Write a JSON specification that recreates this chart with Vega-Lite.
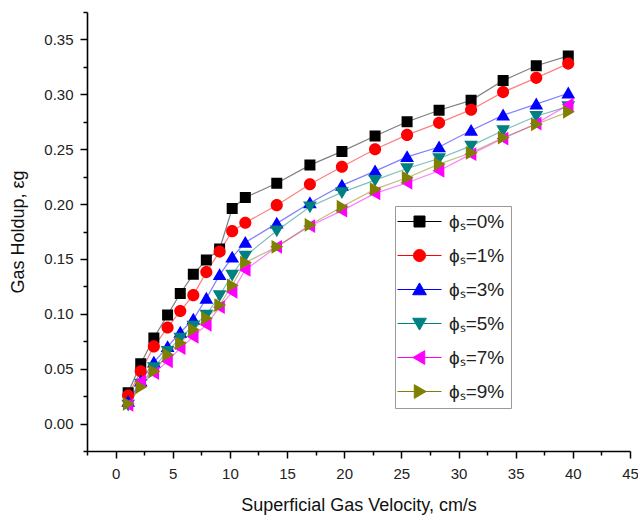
{
  "$schema": "https://vega.github.io/schema/vega-lite/v6.json",
  "width": 543,
  "height": 439,
  "autosize": {"type": "none"},
  "padding": {"left": 87, "top": 12, "right": 8, "bottom": 65},
  "background": "white",
  "config": {
    "view": {"stroke": null},
    "font": "Liberation Sans",
    "axis": {
      "domainColor": "#000", "domainWidth": 1.6,
      "tickColor": "#000", "tickWidth": 1.5,
      "labelFont": "Liberation Sans", "labelFontSize": 15, "labelColor": "#222",
      "titleFont": "Liberation Sans", "titleFontSize": 18, "titleFontWeight": "normal", "titleColor": "#111",
      "grid": false, "labelOverlap": false, "labelFlush": false
    }
  },
  "data": {
    "values": [
      {"v":1.1,"phi":"0%","eg":0.028},{"v":2.2,"phi":"0%","eg":0.0545},{"v":3.35,"phi":"0%","eg":0.078},{"v":4.55,"phi":"0%","eg":0.099},{"v":5.66,"phi":"0%","eg":0.1185},{"v":6.8,"phi":"0%","eg":0.136},{"v":7.94,"phi":"0%","eg":0.149},{"v":9.1,"phi":"0%","eg":0.159},{"v":10.2,"phi":"0%","eg":0.196},{"v":11.35,"phi":"0%","eg":0.206},{"v":14.1,"phi":"0%","eg":0.219},{"v":17.0,"phi":"0%","eg":0.2355},{"v":19.8,"phi":"0%","eg":0.248},{"v":22.7,"phi":"0%","eg":0.262},{"v":25.5,"phi":"0%","eg":0.275},{"v":28.3,"phi":"0%","eg":0.2855},{"v":31.1,"phi":"0%","eg":0.2945},{"v":33.9,"phi":"0%","eg":0.3125},{"v":36.8,"phi":"0%","eg":0.326},{"v":39.6,"phi":"0%","eg":0.335},
      {"v":1.1,"phi":"1%","eg":0.0255},{"v":2.2,"phi":"1%","eg":0.0476},{"v":3.35,"phi":"1%","eg":0.0703},{"v":4.55,"phi":"1%","eg":0.0875},{"v":5.66,"phi":"1%","eg":0.1025},{"v":6.8,"phi":"1%","eg":0.117},{"v":7.94,"phi":"1%","eg":0.138},{"v":9.1,"phi":"1%","eg":0.1567},{"v":10.2,"phi":"1%","eg":0.1753},{"v":11.35,"phi":"1%","eg":0.183},{"v":14.1,"phi":"1%","eg":0.199},{"v":17.0,"phi":"1%","eg":0.218},{"v":19.8,"phi":"1%","eg":0.234},{"v":22.7,"phi":"1%","eg":0.25},{"v":25.5,"phi":"1%","eg":0.263},{"v":28.3,"phi":"1%","eg":0.274},{"v":31.1,"phi":"1%","eg":0.286},{"v":33.9,"phi":"1%","eg":0.302},{"v":36.8,"phi":"1%","eg":0.315},{"v":39.6,"phi":"1%","eg":0.328},
      {"v":1.1,"phi":"3%","eg":0.02},{"v":2.2,"phi":"3%","eg":0.0385},{"v":3.35,"phi":"3%","eg":0.0558},{"v":4.55,"phi":"3%","eg":0.07},{"v":5.66,"phi":"3%","eg":0.083},{"v":6.8,"phi":"3%","eg":0.095},{"v":7.94,"phi":"3%","eg":0.114},{"v":9.1,"phi":"3%","eg":0.1355},{"v":10.2,"phi":"3%","eg":0.1515},{"v":11.35,"phi":"3%","eg":0.165},{"v":14.1,"phi":"3%","eg":0.1824},{"v":17.0,"phi":"3%","eg":0.201},{"v":19.8,"phi":"3%","eg":0.217},{"v":22.7,"phi":"3%","eg":0.23},{"v":25.5,"phi":"3%","eg":0.243},{"v":28.3,"phi":"3%","eg":0.252},{"v":31.1,"phi":"3%","eg":0.267},{"v":33.9,"phi":"3%","eg":0.281},{"v":36.8,"phi":"3%","eg":0.291},{"v":39.6,"phi":"3%","eg":0.301},
      {"v":1.1,"phi":"5%","eg":0.017},{"v":2.2,"phi":"5%","eg":0.036},{"v":3.35,"phi":"5%","eg":0.051},{"v":4.55,"phi":"5%","eg":0.066},{"v":5.66,"phi":"5%","eg":0.078},{"v":6.8,"phi":"5%","eg":0.089},{"v":7.94,"phi":"5%","eg":0.099},{"v":9.1,"phi":"5%","eg":0.1167},{"v":10.2,"phi":"5%","eg":0.1355},{"v":11.35,"phi":"5%","eg":0.1527},{"v":14.1,"phi":"5%","eg":0.1757},{"v":17.0,"phi":"5%","eg":0.1976},{"v":19.8,"phi":"5%","eg":0.2106},{"v":22.7,"phi":"5%","eg":0.2218},{"v":25.5,"phi":"5%","eg":0.2324},{"v":28.3,"phi":"5%","eg":0.2415},{"v":31.1,"phi":"5%","eg":0.253},{"v":33.9,"phi":"5%","eg":0.267},{"v":36.8,"phi":"5%","eg":0.28},{"v":39.6,"phi":"5%","eg":0.289},
      {"v":1.1,"phi":"7%","eg":0.017},{"v":2.2,"phi":"7%","eg":0.0385},{"v":3.35,"phi":"7%","eg":0.046},{"v":4.55,"phi":"7%","eg":0.0567},{"v":5.66,"phi":"7%","eg":0.0688},{"v":6.8,"phi":"7%","eg":0.079},{"v":7.94,"phi":"7%","eg":0.09},{"v":9.1,"phi":"7%","eg":0.106},{"v":10.2,"phi":"7%","eg":0.12},{"v":11.35,"phi":"7%","eg":0.14},{"v":14.1,"phi":"7%","eg":0.161},{"v":17.0,"phi":"7%","eg":0.18},{"v":19.8,"phi":"7%","eg":0.194},{"v":22.7,"phi":"7%","eg":0.2097},{"v":25.5,"phi":"7%","eg":0.2194},{"v":28.3,"phi":"7%","eg":0.2303},{"v":31.1,"phi":"7%","eg":0.2455},{"v":33.9,"phi":"7%","eg":0.2597},{"v":36.8,"phi":"7%","eg":0.2733},{"v":39.6,"phi":"7%","eg":0.2905},
      {"v":1.1,"phi":"9%","eg":0.018},{"v":2.2,"phi":"9%","eg":0.0333},{"v":3.35,"phi":"9%","eg":0.0476},{"v":4.55,"phi":"9%","eg":0.0627},{"v":5.66,"phi":"9%","eg":0.0733},{"v":6.8,"phi":"9%","eg":0.0855},{"v":7.94,"phi":"9%","eg":0.096},{"v":9.1,"phi":"9%","eg":0.108},{"v":10.2,"phi":"9%","eg":0.126},{"v":11.35,"phi":"9%","eg":0.1467},{"v":14.1,"phi":"9%","eg":0.161},{"v":17.0,"phi":"9%","eg":0.181},{"v":19.8,"phi":"9%","eg":0.1976},{"v":22.7,"phi":"9%","eg":0.2136},{"v":25.5,"phi":"9%","eg":0.224},{"v":28.3,"phi":"9%","eg":0.2364},{"v":31.1,"phi":"9%","eg":0.2467},{"v":33.9,"phi":"9%","eg":0.2606},{"v":36.8,"phi":"9%","eg":0.2727},{"v":39.6,"phi":"9%","eg":0.284}
    ]
  },
  "encoding": {
    "x": {
      "field": "v", "type": "quantitative",
      "scale": {"domain": [-2.5, 45], "nice": false, "zero": false},
      "axis": {
        "title": "Superficial Gas Velocity, cm/s",
        "values": [-2.5,0,2.5,5,7.5,10,12.5,15,17.5,20,22.5,25,27.5,30,32.5,35,37.5,40,42.5,45],
        "labelExpr": "datum.value % 5 === 0 ? format(datum.value, 'd') : ''",
        "tickSize": {"condition": {"test": "datum.value % 5 === 0", "value": 7}, "value": 4},
        "labelPadding": 8,
        "titlePadding": 15
      }
    },
    "y": {
      "field": "eg", "type": "quantitative",
      "scale": {"domain": [-0.025, 0.375], "nice": false, "zero": false},
      "axis": {
        "title": "Gas Holdup, εg",
        "values": [-0.025,0,0.025,0.05,0.075,0.1,0.125,0.15,0.175,0.2,0.225,0.25,0.275,0.3,0.325,0.35,0.375],
        "labelExpr": "abs(datum.value*20 - round(datum.value*20)) < 0.000001 ? format(datum.value, '.2f') : ''",
        "tickSize": {"condition": {"test": "abs(datum.value*20 - round(datum.value*20)) < 0.000001", "value": 7}, "value": 4},
        "labelPadding": 7,
        "titlePadding": 16
      }
    },
    "color": {
      "field": "phi", "type": "nominal",
      "scale": {"domain": ["0%","1%","3%","5%","7%","9%"], "range": ["#000000","#ff0000","#0000ff","#008080","#ff00ff","#808000"]},
      "legend": {
        "orient": "none", "legendX": 308, "legendY": 194,
        "title": null,
        "strokeColor": "#999", "fillColor": "white",
        "padding": 6,
        "symbolOffset": 9,
        "symbolSize": 121,
        "symbolStrokeWidth": 1,
        "symbolStrokeColor": "#999",
        "labelOffset": 20,
        "labelFont": "Liberation Sans", "labelFontSize": 19, "labelColor": "#222",
        "rowPadding": 14,
        "labelExpr": "'ϕₛ=' + datum.label"
      }
    }
  },
  "layer": [
    {
      "mark": {"type": "line", "strokeWidth": 1.2, "strokeOpacity": 0.5},
      "encoding": {"detail": {"field": "phi"}}
    },
    {
      "mark": {"type": "point", "filled": true, "opacity": 1, "size": 121},
      "encoding": {
        "shape": {
          "field": "phi", "type": "nominal",
          "scale": {"domain": ["0%","1%","3%","5%","7%","9%"], "range": ["M-4,0H-1M1,0H4M-1,-1H1V1H-1Z","M-4,0H-1.1M1.1,0H4M-1.1,0A1.1,1.1 0 1,0 1.1,0A1.1,1.1 0 1,0 -1.1,0Z","M-4,0H4M0,-1.2L1.25,0.95H-1.25Z","M-4,0H4M0,1.2L1.25,-0.95H-1.25Z","M-4,0H4M-1.2,0L0.95,-1.25V1.25Z","M-4,0H4M1.2,0L-0.95,-1.25V1.25Z"]}
        }
      }
    }
  ]
}
